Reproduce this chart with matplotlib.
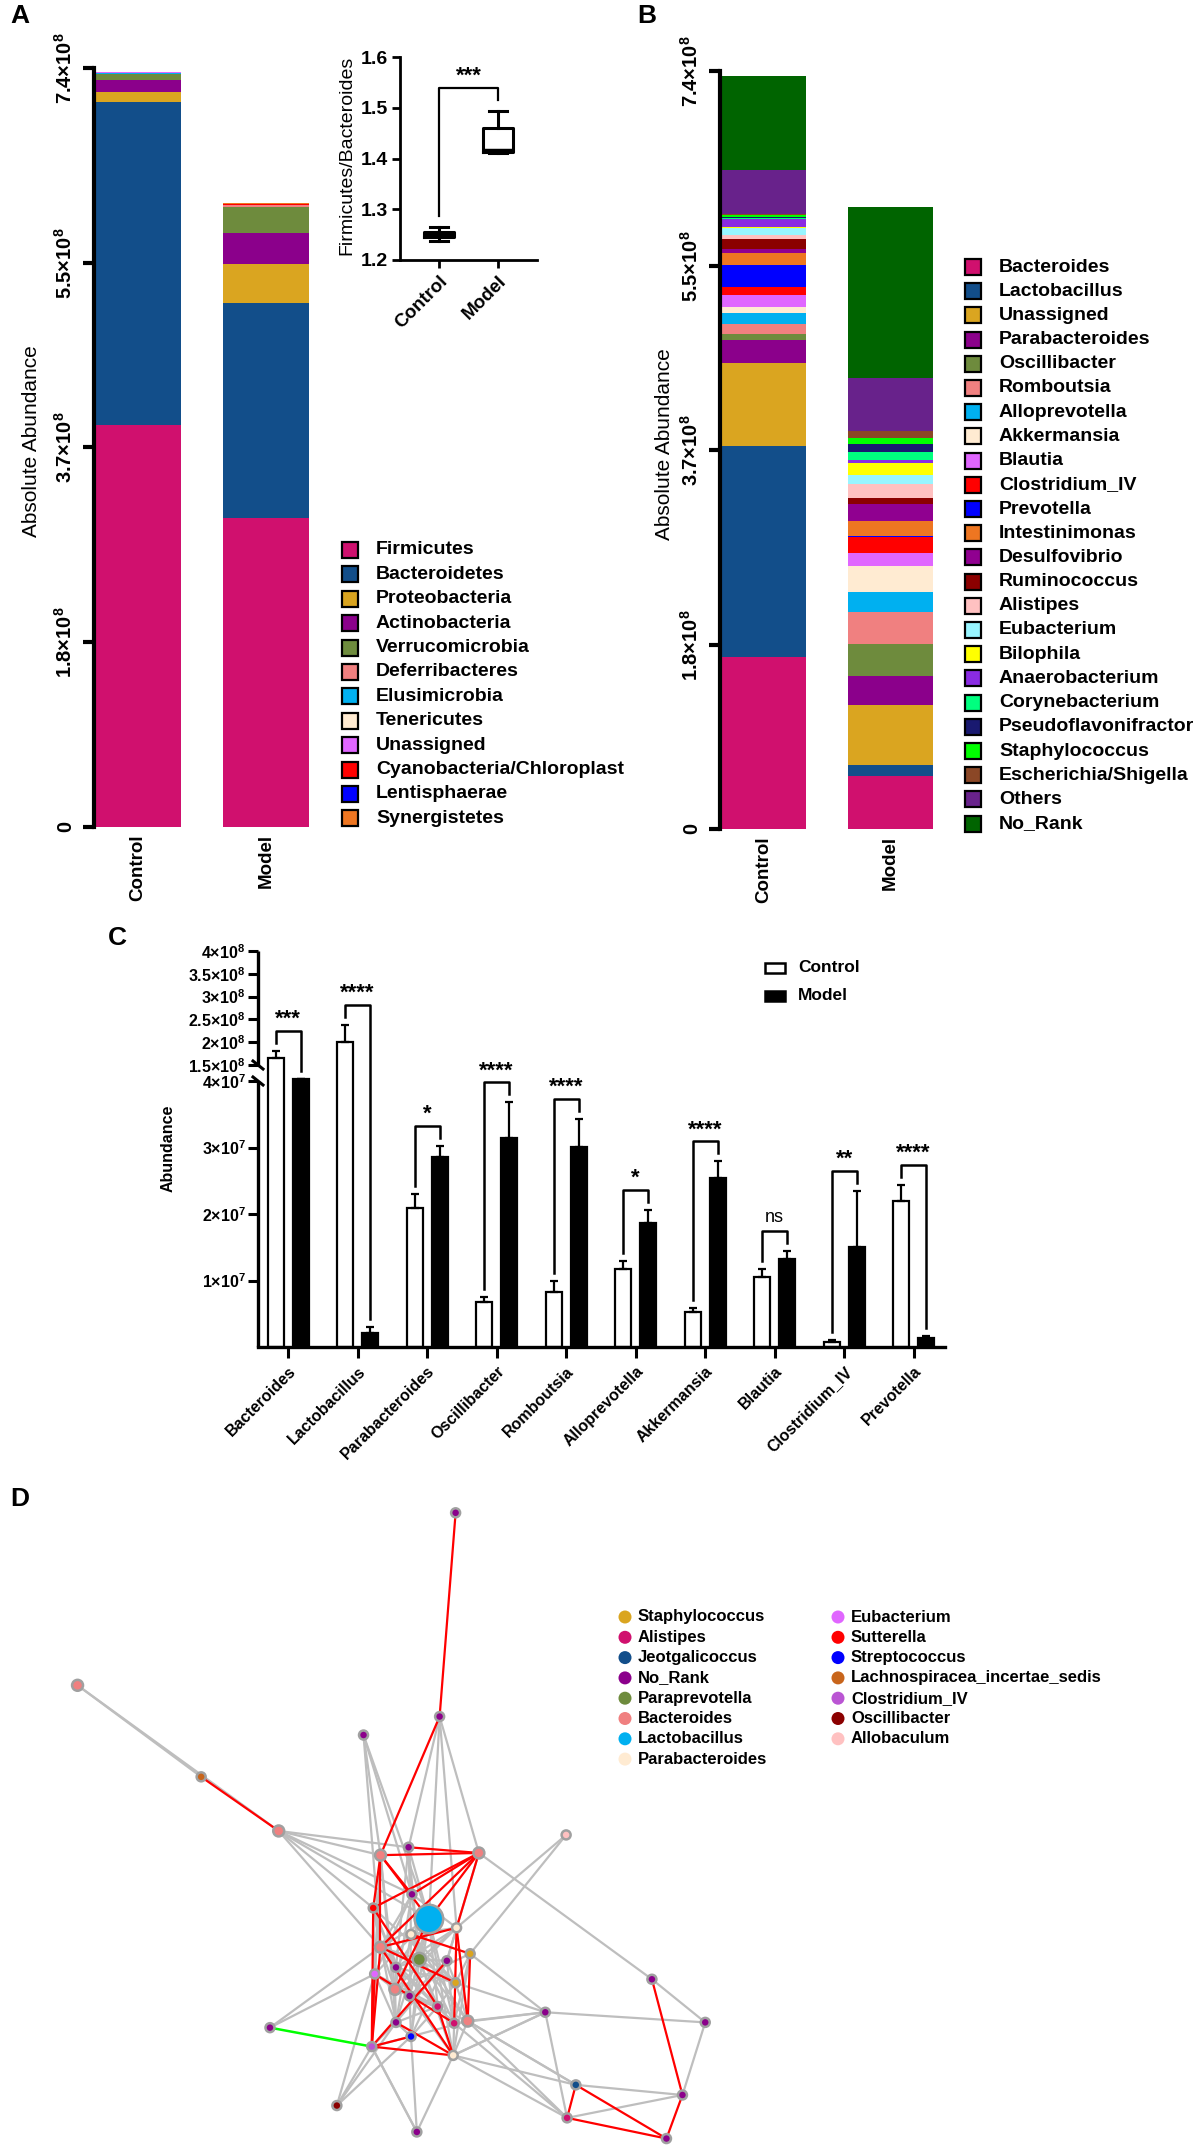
import matplotlib
matplotlib.use("Agg")
import matplotlib.pyplot as plt
import numpy as np
from matplotlib.patches import Rectangle, Circle
from matplotlib.collections import LineCollection
from matplotlib.transforms import Affine2D, blended_transform_factory

plt.rcParams['font.family'] = ['Liberation Sans', 'DejaVu Sans']
plt.rcParams['mathtext.fontset'] = 'custom'
plt.rcParams['mathtext.rm'] = 'Liberation Sans'
plt.rcParams['mathtext.bf'] = 'Liberation Sans:bold'
plt.rcParams['mathtext.it'] = 'Liberation Sans:italic'

W, H = 1200, 2150

# ---------------- data ----------------
groups = ['Control', 'Model']

# panel A: phylum level (x 1e8)
phyla = ['Firmicutes', 'Bacteroidetes', 'Proteobacteria', 'Actinobacteria',
         'Verrucomicrobia', 'Deferribacteres', 'Elusimicrobia', 'Tenericutes',
         'Unassigned', 'Cyanobacteria/Chloroplast', 'Lentisphaerae', 'Synergistetes']
phylum_colors = ['#D0106E', '#124E8A', '#DAA520', '#8B008B', '#6E8B3D', '#F08080',
                 '#00B0F0', '#FFEBD2', '#E066FF', '#FF0000', '#0000FF', '#EE7621']
phylum_control = [3.92, 3.15, 0.10, 0.11, 0.06, 0.004, 0.01, 0.002, 0.002, 0.002, 0.001, 0.001]
phylum_model = [3.01, 2.10, 0.38, 0.30, 0.25, 0.02, 0.004, 0.002, 0.002, 0.003, 0.006, 0.002]

# inset: Firmicutes/Bacteroides ratio (min, q1, median, q3, max)
fb_control = [1.238, 1.245, 1.250, 1.255, 1.265]
fb_model = [1.410, 1.412, 1.415, 1.460, 1.493]

# panel B: genus level (x 1e8)
genera = ['Bacteroides', 'Lactobacillus', 'Unassigned', 'Parabacteroides', 'Oscillibacter',
          'Romboutsia', 'Alloprevotella', 'Akkermansia', 'Blautia', 'Clostridium_IV',
          'Prevotella', 'Intestinimonas', 'Desulfovibrio', 'Ruminococcus', 'Alistipes',
          'Eubacterium', 'Bilophila', 'Anaerobacterium', 'Corynebacterium',
          'Pseudoflavonifractor', 'Staphylococcus', 'Escherichia/Shigella', 'Others', 'No_Rank']
genus_colors = ['#D0106E', '#124E8A', '#DAA520', '#8B008B', '#6E8B3D', '#F08080', '#00B0F0',
                '#FFEBD2', '#E066FF', '#FF0000', '#0000FF', '#EE7621', '#900090', '#8B0000',
                '#FFC1C1', '#98F5FF', '#FFFF00', '#8A2BE2', '#00FF7F', '#191970', '#00FF00',
                '#8B4726', '#68228B', '#006400']
genus_control = [1.68, 2.06, 0.81, 0.22, 0.06, 0.10, 0.11, 0.06, 0.11, 0.08, 0.22, 0.11,
                 0.04, 0.10, 0.04, 0.07, 0.005, 0.08, 0.01, 0.01, 0.02, 0.01, 0.43, 0.92]
genus_model = [0.52, 0.10, 0.59, 0.28, 0.32, 0.31, 0.19, 0.26, 0.12, 0.16, 0.015, 0.14,
               0.17, 0.06, 0.13, 0.09, 0.12, 0.03, 0.08, 0.07, 0.06, 0.07, 0.52, 1.67]

# panel C: abundance of top genera (mean and SEM)
genera_c = ['Bacteroides', 'Lactobacillus', 'Parabacteroides', 'Oscillibacter', 'Romboutsia',
            'Alloprevotella', 'Akkermansia', 'Blautia', 'Clostridium_IV', 'Prevotella']
c_control = [1.66e8, 2.00e8, 2.09e7, 0.67e7, 0.83e7, 1.18e7, 0.52e7, 1.05e7, 0.07e7, 2.19e7]
c_control_err = [0.15e8, 0.38e8, 0.21e7, 0.08e7, 0.17e7, 0.12e7, 0.06e7, 0.13e7, 0.03e7, 0.25e7]
c_model = [5.2e7, 0.21e7, 2.85e7, 3.15e7, 3.01e7, 1.86e7, 2.54e7, 1.33e7, 1.50e7, 0.13e7]
c_model_err = [0.0, 0.09e7, 0.18e7, 0.53e7, 0.42e7, 0.20e7, 0.25e7, 0.12e7, 0.85e7, 0.04e7]
c_sig = ['***', '****', '*', '****', '****', '*', '****', 'ns', '**', '****']

# panel D: co-occurrence network (layout units)
net_genera = ['Staphylococcus', 'Alistipes', 'Jeotgalicoccus', 'No_Rank', 'Paraprevotella',
              'Bacteroides', 'Lactobacillus', 'Parabacteroides', 'Eubacterium', 'Sutterella',
              'Streptococcus', 'Lachnospiracea_incertae_sedis', 'Clostridium_IV',
              'Oscillibacter', 'Allobaculum']
net_colors = ['#DAA520', '#D0106E', '#124E8A', '#8B008B', '#6E8B3D', '#F08080', '#00B0F0',
              '#FFEBD2', '#E066FF', '#FF0000', '#0000FF', '#C8651B', '#BA55D3', '#8B0000',
              '#FFC1C1']
node_x = [940, 907, 750, 160, 415, 575, 785, 843, 988, 1168, 850, 885, 770, 942, 848, 785,
          865, 922, 970, 817, 773, 940, 815, 845, 903, 937, 965, 817, 848, 767, 935, 557,
          695, 860, 1125, 1345, 1455, 1188, 1408, 1170, 1375]
node_y = [120, 583, 625, 512, 720, 843, 898, 880, 893, 852, 987, 1043, 1018, 1063, 1078,
          1107, 1135, 1138, 1122, 1153, 1168, 1188, 1203, 1218, 1242, 1280, 1275, 1278, 1310,
          1333, 1353, 1290, 1467, 1527, 1255, 1180, 1278, 1420, 1443, 1495, 1542]
node_genus = ['No_Rank', 'No_Rank', 'No_Rank', 'Bacteroides', 'Lachnospiracea_incertae_sedis',
              'Bacteroides', 'Bacteroides', 'No_Rank', 'Bacteroides', 'Allobaculum', 'No_Rank',
              'Lactobacillus', 'Sutterella', 'Parabacteroides', 'Parabacteroides', 'Bacteroides',
              'Paraprevotella', 'No_Rank', 'Staphylococcus', 'No_Rank', 'Eubacterium',
              'Staphylococcus', 'Bacteroides', 'No_Rank', 'Alistipes', 'Alistipes', 'Bacteroides',
              'No_Rank', 'Streptococcus', 'Clostridium_IV', 'Parabacteroides', 'No_Rank',
              'Oscillibacter', 'No_Rank', 'No_Rank', 'No_Rank', 'No_Rank', 'Jeotgalicoccus',
              'No_Rank', 'Alistipes', 'No_Rank']
positive_edges = [(3, 4), (3, 5), (5, 6), (5, 11), (5, 15), (5, 12), (5, 10), (2, 6), (2, 10),
                  (2, 11), (2, 15), (1, 7), (1, 11), (1, 8), (1, 13), (8, 35), (9, 13), (9, 18),
                  (34, 26), (34, 21), (34, 30), (34, 36), (34, 39), (34, 25), (34, 18), (35, 36),
                  (36, 38), (37, 38), (37, 30), (37, 26), (39, 26), (39, 25), (39, 30), (38, 39),
                  (32, 29), (32, 27), (32, 28), (32, 20), (33, 29), (33, 28), (33, 30), (31, 15),
                  (31, 20), (8, 17), (6, 29), (6, 20), (6, 22), (6, 27), (7, 14), (7, 16),
                  (7, 11), (7, 19), (10, 16), (10, 22), (11, 16), (11, 24), (11, 25), (11, 27),
                  (11, 28), (11, 30), (11, 20), (12, 15), (12, 19), (12, 27), (13, 14), (13, 16),
                  (13, 17), (14, 16), (14, 23), (14, 27), (15, 16), (15, 19), (15, 22), (16, 17),
                  (16, 19), (16, 21), (16, 23), (16, 24), (16, 28), (16, 30), (17, 21), (17, 23),
                  (17, 25), (18, 21), (18, 25), (19, 22), (19, 23), (20, 22), (21, 24),
                  (21, 26), (22, 23), (22, 27), (23, 24), (23, 28), (24, 25), (24, 28), (25, 30),
                  (26, 30), (27, 28), (27, 29), (28, 29), (12, 20), (10, 15), (14, 21), (7, 10),
                  (5, 7), (30, 34), (26, 37), (29, 33), (11, 15), (11, 19), (13, 19), (19, 21),
                  (22, 26), (23, 30), (28, 26), (20, 27), (24, 27), (12, 21), (10, 13), (16, 26),
                  (22, 18), (19, 25), (14, 26), (10, 20), (11, 23), (13, 22), (15, 24),
                  (17, 28), (18, 30), (20, 24), (12, 23), (14, 25), (17, 27)]
negative_edges = [(0, 1), (1, 6), (4, 5), (6, 8), (7, 8), (8, 10), (8, 12), (8, 15), (8, 13),
                  (8, 11), (6, 10), (6, 11), (12, 29), (29, 30), (13, 26), (18, 26), (35, 38),
                  (38, 40), (37, 39), (37, 40), (39, 40), (11, 22), (13, 15), (14, 18),
                  (15, 21), (12, 24), (20, 25), (17, 29), (13, 25), (6, 15), (15, 29), (6, 12),
                  (20, 29), (24, 30), (27, 30), (15, 30), (29, 28)]
other_edges = [(31, 29)]

# ---------------- helpers ----------------
fig = plt.figure(figsize=(W / 100, H / 100), dpi=100)
pix = Affine2D().scale(1 / W, -1 / H).translate(0, 1) + fig.transFigure


def px_axes(x0, y0, x1, y1):
    return fig.add_axes([x0 / W, 1 - y1 / H, (x1 - x0) / W, (y1 - y0) / H])


def sci(v, e, bold=False):
    if bold:
        return r'$\mathbf{%s{\times}10^{%d}}$' % (v, e)
    return r'$\mathregular{%s{\times}10^{%d}}$' % (v, e)


def stacked_panel(ax, ctrl, model, colors):
    bottom = np.zeros(2)
    for c, m, col in zip(ctrl, model, colors):
        vals = np.array([c, m]) * 1e8
        ax.bar([0, 1], vals, bottom=bottom, width=0.67, color=col, linewidth=0)
        bottom += vals
    ax.set_xlim(-0.34, 1.34)
    ax.set_ylim(0, 7.4e8)
    for s in ['top', 'right', 'bottom']:
        ax.spines[s].set_visible(False)
    ax.spines['left'].set_linewidth(3)
    ax.set_yticks([0, 1.8e8, 3.7e8, 5.5e8, 7.4e8])
    ax.set_yticklabels([r'$\mathbf{0}$', sci('1.8', 8, True), sci('3.7', 8, True),
                        sci('5.5', 8, True), sci('7.4', 8, True)])
    ax.tick_params(axis='y', length=8, width=3, pad=5, labelsize=14.5, labelrotation=90)
    ax.tick_params(axis='x', length=0, pad=5)
    ax.set_xticks([0, 1])
    ax.set_xticklabels(groups, rotation=90, fontsize=13.5, fontweight='bold', va='top')
    for lab in ax.get_yticklabels():
        lab.set_va('center')


def square_legend(names, colors, x, y0, dy):
    for i, (n, c) in enumerate(zip(names, colors)):
        y = y0 + i * dy
        fig.add_artist(Rectangle((x - 8, y - 8), 16, 16, transform=pix, facecolor=c,
                                 edgecolor='black', linewidth=1.6))
        fig.text(x + 26, y, n, transform=pix, fontsize=14, fontweight='bold', va='center')


# ---------------- panel A ----------------
ax_a = px_axes(94, 68, 310, 827)
stacked_panel(ax_a, phylum_control, phylum_model, phylum_colors)
fig.text(32, 441, 'Absolute Abundance', transform=pix, rotation=90, fontsize=15,
         ha='center', va='center')
square_legend(phyla, phylum_colors, 350, 550, 24.4)
fig.text(10, 16, 'A', transform=pix, fontsize=19, fontweight='bold', va='center')

# inset ratio box plot
ax_in = px_axes(400, 57, 537, 260)
stats = []
for lab, q in zip(groups, [fb_control, fb_model]):
    stats.append(dict(label=lab, whislo=q[0], q1=q[1], med=q[2], q3=q[3], whishi=q[4]))
lw_in = 2.2
ax_in.bxp(stats, positions=[0, 1], widths=0.5, showfliers=False, capwidths=0.3,
          boxprops=dict(linewidth=lw_in, color='black'),
          whiskerprops=dict(linewidth=lw_in, color='black'),
          capprops=dict(linewidth=lw_in, color='black'),
          medianprops=dict(linewidth=lw_in + 1, color='black'))
ax_in.set_xlim(-0.66, 1.66)
ax_in.set_ylim(1.2, 1.6)
ax_in.set_yticks([1.2, 1.3, 1.4, 1.5, 1.6])
ax_in.set_yticklabels(['1.2', '1.3', '1.4', '1.5', '1.6'], fontsize=14, fontweight='bold')
ax_in.set_xticks([0, 1])
ax_in.set_xticklabels(groups, rotation=45, ha='right', rotation_mode='anchor',
                      fontsize=13.5, fontweight='bold')
for s in ['top', 'right']:
    ax_in.spines[s].set_visible(False)
for s in ['left', 'bottom']:
    ax_in.spines[s].set_linewidth(2)
ax_in.tick_params(length=6, width=2, pad=3)
ax_in.plot([0, 0, 1, 1], [1.286, 1.539, 1.539, 1.515], color='black', lw=1.6)
ax_in.text(0.5, 1.541, '***', ha='center', va='bottom', fontsize=16, fontweight='bold')
fig.text(347, 155, 'Firmicutes/Bacteroides', transform=pix, rotation=90, fontsize=14,
         ha='center', va='center')

# ---------------- panel B ----------------
ax_b = px_axes(720, 71, 934, 829)
stacked_panel(ax_b, genus_control, genus_model, genus_colors)
fig.text(665, 444, 'Absolute Abundance', transform=pix, rotation=90, fontsize=15,
         ha='center', va='center')
square_legend(genera, genus_colors, 973, 267, 24.2)
fig.text(637, 16, 'B', transform=pix, fontsize=19, fontweight='bold', va='center')


# ---------------- panel C ----------------
def c_fwd(v):
    v = np.asarray(v, dtype=float)
    low = v / 1e7 * 66.5
    mid = 266 + (v - 4e7) / 1.1e8 * 16
    up = 282 + (v - 1.5e8) / 1e8 * 45.6
    return np.where(v <= 4e7, low, np.where(v < 1.5e8, mid, up))


def c_inv(p):
    p = np.asarray(p, dtype=float)
    low = p / 66.5 * 1e7
    mid = 4e7 + (p - 266) / 16 * 1.1e8
    up = 1.5e8 + (p - 282) / 45.6 * 1e8
    return np.where(p <= 266, low, np.where(p < 282, mid, up))


ax_c = px_axes(258, 951, 945, 1347)
ax_c.set_yscale('function', functions=(c_fwd, c_inv))
ax_c.set_ylim(0, 4e8)
ax_c.set_xlim(-0.432, 9.45)
xc = np.arange(len(genera_c))
off, bw = 0.18, 0.23
ax_c.bar(xc - off, c_control, width=bw, facecolor='white', edgecolor='black', linewidth=1.6)
ax_c.bar(xc + off, c_model, width=bw, facecolor='black', edgecolor='black', linewidth=1.6)
zeros = np.zeros(len(xc))
ax_c.errorbar(xc - off, c_control, yerr=[zeros, c_control_err], fmt='none', ecolor='black',
              elinewidth=1.6, capsize=3, capthick=1.6)
ax_c.errorbar(xc + off, c_model, yerr=[zeros, c_model_err], fmt='none', ecolor='black',
              elinewidth=1.6, capsize=3, capthick=1.6)

for i, s in enumerate(c_sig):
    pc = float(c_fwd(c_control[i] + c_control_err[i]))
    pm = float(c_fwd(c_model[i] + c_model_err[i]))
    pt = max(pc, pm) + 20
    yl, yr, yt = float(c_inv(pc + 8)), float(c_inv(pm + 8)), float(c_inv(pt))
    ax_c.plot([i - off, i - off, i + off, i + off], [yl, yt, yt, yr], color='black', lw=1.8,
              clip_on=False)
    if s == 'ns':
        ax_c.text(i, float(c_inv(pt + 5)), s, ha='center', va='bottom', fontsize=13)
    else:
        ax_c.text(i, float(c_inv(pt + 1)), s, ha='center', va='bottom', fontsize=16,
                  fontweight='bold')

ax_c.spines['left'].set_visible(False)
for s in ['top', 'right']:
    ax_c.spines[s].set_visible(False)
ax_c.spines['bottom'].set_linewidth(2.4)
bt = blended_transform_factory(ax_c.transAxes, ax_c.transData)
ax_c.plot([0, 0], [0, 4e7], transform=bt, color='black', lw=2.4, clip_on=False,
          solid_capstyle='butt')
ax_c.plot([0, 0], [1.5e8, 4e8], transform=bt, color='black', lw=2.4, clip_on=False,
          solid_capstyle='butt')
for v in [1.5e8, 4e7]:
    yb = 1347 - float(c_fwd(v))
    fig.add_artist(plt.Line2D([253, 263], [yb - 4, yb + 4], transform=pix, color='black',
                              lw=2.2))
c_ticks = [1e7, 2e7, 3e7, 4e7, 1.5e8, 2e8, 2.5e8, 3e8, 3.5e8, 4e8]
c_ticklabels = [sci('1', 7, True), sci('2', 7, True), sci('3', 7, True), sci('4', 7, True),
                sci('1.5', 8, True), sci('2', 8, True), sci('2.5', 8, True), sci('3', 8, True),
                sci('3.5', 8, True), sci('4', 8, True)]
ax_c.set_yticks(c_ticks)
ax_c.set_yticklabels(c_ticklabels)
ax_c.yaxis.set_minor_locator(matplotlib.ticker.NullLocator())
ax_c.tick_params(axis='y', length=7, width=2.2, pad=2, labelsize=11.5)
ax_c.set_xticks(xc)
ax_c.set_xticklabels(genera_c, rotation=45, ha='right', rotation_mode='anchor',
                     fontsize=11.5, fontweight='bold')
ax_c.tick_params(axis='x', length=8, width=2.2, pad=4)
fig.text(168, 1148, 'Abundance', transform=pix, rotation=90, fontsize=11.5,
         fontweight='bold', ha='center', va='center')
fig.text(108, 938, 'C', transform=pix, fontsize=19, fontweight='bold', va='center')
for i, (lab, fc) in enumerate(zip(groups, ['white', 'black'])):
    y = 968 + i * 28
    fig.add_artist(Rectangle((765, y - 5), 20, 10, transform=pix, facecolor=fc,
                             edgecolor='black', linewidth=1.8))
    fig.text(798, y, lab, transform=pix, fontsize=12.5, fontweight='bold', va='center')

# ---------------- panel D ----------------
ax_d = px_axes(0, 1460, 760, 2150)
ax_d.set_xlim(0, 1568)
ax_d.set_ylim(1568, 0)
ax_d.axis('off')
pts = np.column_stack([node_x, node_y])
for edges, col, lw in [(positive_edges, '#BEBEBE', 1.6), (negative_edges, '#FF0000', 1.6),
                       (other_edges, '#00FF00', 1.8)]:
    segs = [[pts[a], pts[b]] for a, b in edges]
    ax_d.add_collection(LineCollection(segs, colors=col, linewidths=lw, zorder=1))
color_of = dict(zip(net_genera, net_colors))
size_of = {'Lactobacillus': 420, 'Paraprevotella': 90, 'Bacteroides': 62}
ax_d.scatter(node_x, node_y, s=[size_of.get(g, 42) for g in node_genus],
             c=[color_of[g] for g in node_genus], edgecolors='#A0A0A0', linewidths=1.8,
             zorder=3)
fig.text(10, 1499, 'D', transform=pix, fontsize=19, fontweight='bold', va='center')
n_first = 8
for i, (g, col) in enumerate(zip(net_genera, net_colors)):
    cx = 625 if i < n_first else 838
    y = 1617 + (i if i < n_first else i - n_first) * 20.3
    fig.add_artist(Circle((cx, y), 6.5, transform=pix, facecolor=col, edgecolor='none'))
    fig.text(cx + 13, y, g, transform=pix, fontsize=12, fontweight='bold', va='center')

fig.savefig('out.png', dpi=100)
